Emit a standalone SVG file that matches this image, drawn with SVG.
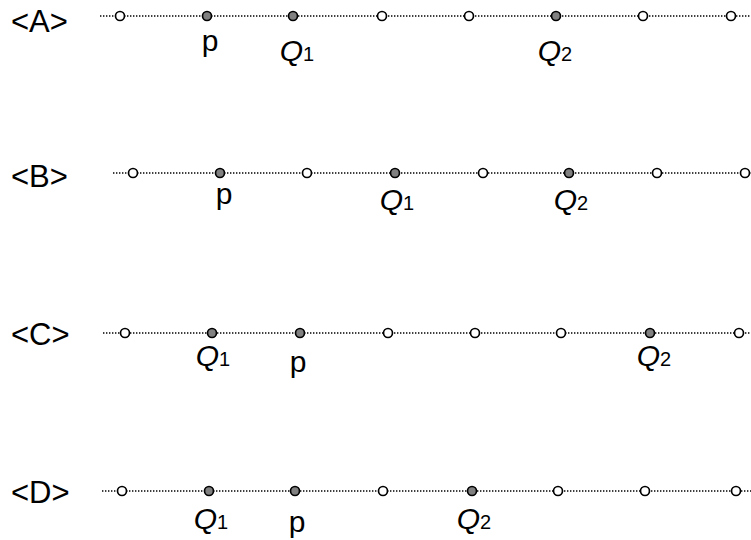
<svg xmlns="http://www.w3.org/2000/svg" width="751" height="540" viewBox="0 0 751 540">
<style>
.bg{fill:#ffffff}
.ln{stroke:#000;stroke-width:1.4;stroke-dasharray:1.4 1.6;fill:none}
.o{fill:#fff;stroke:#000;stroke-width:1.7}
.f{fill:#808080;stroke:#000;stroke-width:1.7}
.hd{font-family:"Liberation Sans",Arial,sans-serif;font-size:31px;fill:#000}
.lb{font-family:"Liberation Sans",Arial,sans-serif;font-size:30px;fill:#000;text-anchor:middle}
.q{font-style:italic}
.s{font-size:20px;font-style:normal}
</style>
<rect class="bg" x="0" y="0" width="751" height="540"/>
<g id="connectors">
<line class="ln" x1="100" y1="16" x2="751" y2="16"/>
<line class="ln" x1="113" y1="173" x2="751" y2="173"/>
<line class="ln" x1="103" y1="333" x2="751" y2="333"/>
<line class="ln" x1="102" y1="491" x2="751" y2="491"/>
</g>
<g id="rowA">
<text class="hd" x="11" y="32">&lt;A&gt;</text>
<circle class="o" cx="120" cy="16" r="4.5"/>
<circle class="f" cx="207" cy="16" r="4.5"/>
<circle class="f" cx="293" cy="16" r="4.5"/>
<circle class="o" cx="382" cy="16" r="4.5"/>
<circle class="o" cx="469" cy="16" r="4.5"/>
<circle class="f" cx="556" cy="16" r="4.5"/>
<circle class="o" cx="643" cy="16" r="4.5"/>
<circle class="o" cx="731" cy="16" r="4.5"/>
<text class="lb" x="210" y="51">p</text>
<text class="lb" x="297" y="61"><tspan class="q">Q</tspan><tspan class="s">1</tspan></text>
<text class="lb" x="555" y="61"><tspan class="q">Q</tspan><tspan class="s">2</tspan></text>
</g>
<g id="rowB">
<text class="hd" x="11" y="187">&lt;B&gt;</text>
<circle class="o" cx="133" cy="173" r="4.5"/>
<circle class="f" cx="220" cy="173" r="4.5"/>
<circle class="o" cx="307" cy="173" r="4.5"/>
<circle class="f" cx="395" cy="173" r="4.5"/>
<circle class="o" cx="483" cy="173" r="4.5"/>
<circle class="f" cx="569" cy="173" r="4.5"/>
<circle class="o" cx="657" cy="173" r="4.5"/>
<circle class="o" cx="745" cy="173" r="4.5"/>
<text class="lb" x="224" y="204">p</text>
<text class="lb" x="397" y="210"><tspan class="q">Q</tspan><tspan class="s">1</tspan></text>
<text class="lb" x="571" y="210"><tspan class="q">Q</tspan><tspan class="s">2</tspan></text>
</g>
<g id="rowC">
<text class="hd" x="11" y="345">&lt;C&gt;</text>
<circle class="o" cx="125" cy="333" r="4.5"/>
<circle class="f" cx="212" cy="333" r="4.5"/>
<circle class="f" cx="300" cy="333" r="4.5"/>
<circle class="o" cx="388" cy="333" r="4.5"/>
<circle class="o" cx="475" cy="333" r="4.5"/>
<circle class="o" cx="561" cy="333" r="4.5"/>
<circle class="f" cx="650" cy="333" r="4.5"/>
<circle class="o" cx="739" cy="333" r="4.5"/>
<text class="lb" x="213" y="366"><tspan class="q">Q</tspan><tspan class="s">1</tspan></text>
<text class="lb" x="298" y="372">p</text>
<text class="lb" x="654" y="366"><tspan class="q">Q</tspan><tspan class="s">2</tspan></text>
</g>
<g id="rowD">
<text class="hd" x="11" y="503">&lt;D&gt;</text>
<circle class="o" cx="122" cy="491" r="4.5"/>
<circle class="f" cx="209" cy="491" r="4.5"/>
<circle class="f" cx="295" cy="491" r="4.5"/>
<circle class="o" cx="383" cy="491" r="4.5"/>
<circle class="f" cx="472" cy="491" r="4.5"/>
<circle class="o" cx="558" cy="491" r="4.5"/>
<circle class="o" cx="645" cy="491" r="4.5"/>
<circle class="o" cx="736" cy="491" r="4.5"/>
<text class="lb" x="211" y="529"><tspan class="q">Q</tspan><tspan class="s">1</tspan></text>
<text class="lb" x="297" y="532">p</text>
<text class="lb" x="474" y="529"><tspan class="q">Q</tspan><tspan class="s">2</tspan></text>
</g>
</svg>
